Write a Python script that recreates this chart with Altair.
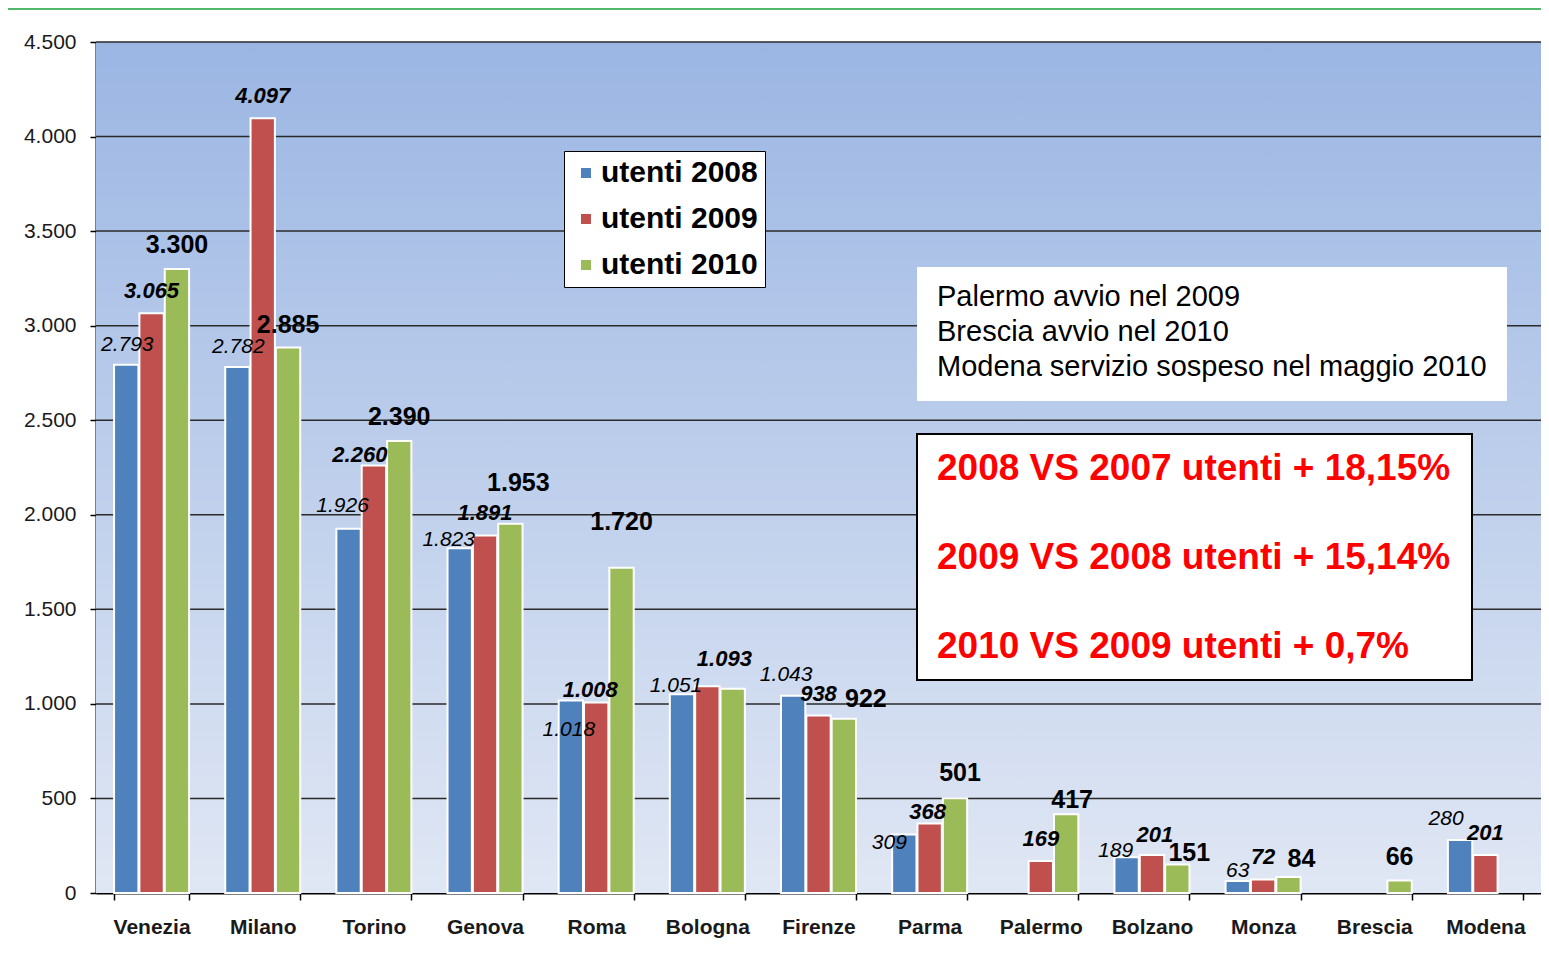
import altair as alt
import pandas as pd

# ---------------- data ----------------
CITIES = ["Venezia", "Milano", "Torino", "Genova", "Roma", "Bologna", "Firenze",
          "Parma", "Palermo", "Bolzano", "Monza", "Brescia", "Modena"]
SERIES = ["utenti 2008", "utenti 2009", "utenti 2010"]
U2008 = [2793, 2782, 1926, 1823, 1018, 1051, 1043, 309, None, 189, 63, None, 280]
U2009 = [3065, 4097, 2260, 1891, 1008, 1093, 938, 368, 169, 201, 72, None, 201]
U2010 = [3300, 2885, 2390, 1953, 1720, 1080, 922, 501, 417, 151, 84, 66, None]
UNLABELLED = [("utenti 2010", "Bologna")]
Y_TICKS = [0, 500, 1000, 1500, 2000, 2500, 3000, 3500, 4000, 4500]
NOTES = ["Palermo avvio nel 2009", "Brescia avvio nel 2010",
         "Modena servizio sospeso nel maggio 2010"]
STATS = ["2008 VS 2007 utenti + 18,15%", "2009 VS 2008 utenti + 15,14%",
         "2010 VS 2009 utenti + 0,7%"]

# ---------------- style ----------------
COLORS = ["#4F81BD", "#C0504D", "#9BBB59"]
FONT = "Liberation Sans"
W, H = 1445, 851
LABEL_STYLE = {
    "utenti 2008": dict(fontSize=21, fontStyle="italic", fontWeight="normal"),
    "utenti 2009": dict(fontSize=22, fontStyle="italic", fontWeight="bold"),
    "utenti 2010": dict(fontSize=25, fontStyle="normal", fontWeight="bold"),
}
DEFAULT_NUDGE = (0, -22)
LABEL_NUDGE = {
    "utenti 2008": {"Venezia": (1, -20), "Milano": (1, -20), "Torino": (-6, -23),
                    "Genova": (-11, -8), "Roma": (-2, 30), "Bologna": (-6, -8),
                    "Firenze": (-7, -21), "Parma": (-15, 8), "Bolzano": (-11, -6),
                    "Monza": (0, -10), "Modena": (-14, -21)},
    "utenti 2009": {"Torino": (-14, -11), "Roma": (-6, -12), "Bologna": (17, -27),
                    "Parma": (-2, -11), "Bolzano": (3, -20)},
    "utenti 2010": {"Venezia": (0, -24), "Torino": (0, -24), "Genova": (8, -41),
                    "Roma": (0, -46), "Firenze": (22, -20), "Parma": (5, -25),
                    "Palermo": (6, -14), "Bolzano": (12, -11), "Monza": (13, -18),
                    "Brescia": (0, -24)},
}

rows = []
for s, vals in zip(SERIES, [U2008, U2009, U2010]):
    for c, v in zip(CITIES, vals):
        if v is None:
            continue
        lab = "" if (s, c) in UNLABELLED else f"{v:,}".replace(",", ".")
        rows.append({"city": c, "series": s, "value": v, "label": lab})
df = pd.DataFrame(rows)
one = pd.DataFrame({"k": [0]})
grid_df = pd.DataFrame({"value": Y_TICKS[1:]})

x_enc = alt.X("city:N", sort=CITIES,
              scale=alt.Scale(domain=CITIES, paddingInner=0.325, paddingOuter=0.1625),
              axis=alt.Axis(title=None, labelFont=FONT, labelFontSize=21,
                            labelFontWeight="bold", labelColor="#1a1a1a",
                            labelPadding=16, tickBand="extent", tickSize=7,
                            tickColor="#000", tickWidth=1.5, domainColor="#000",
                            domainWidth=2, grid=False, labelAngle=0))
xoff_enc = alt.XOffset("series:N", scale=alt.Scale(domain=SERIES, paddingInner=0.04))
y_enc = alt.Y("value:Q",
              scale=alt.Scale(domain=[0, 4500], nice=False),
              axis=alt.Axis(title=None, values=Y_TICKS, labelFont=FONT,
                            labelFontSize=21, labelColor="#1a1a1a",
                            labelExpr="replace(format(datum.value, ','), ',', '.')",
                            labelPadding=14, tickSize=6, tickColor="#000",
                            tickWidth=1.5, domainColor="#000", domainWidth=2,
                            grid=False))

grad = alt.LinearGradient(
    gradient="linear",
    stops=[alt.GradientStop(color="#9BB6E3", offset=0),
           alt.GradientStop(color="#E0E7F4", offset=1)],
    x1=0, x2=0, y1=0, y2=1)

background = alt.Chart(one).mark_rect(fill=grad).encode(
    x=alt.value(0), x2=alt.value(W), y=alt.value(0), y2=alt.value(H))

gridlines = alt.Chart(grid_df).mark_rule(color="#2a2a2a", strokeWidth=1.5).encode(
    y=alt.Y("value:Q"))

bars = alt.Chart(df).mark_bar(stroke="white", strokeWidth=2).encode(
    x=x_enc, xOffset=xoff_enc, y=y_enc,
    color=alt.Color("series:N",
                    scale=alt.Scale(domain=SERIES, range=COLORS),
                    legend=alt.Legend(title=None, orient="none", legendX=468, legendY=109,
                                      fillColor="white", strokeColor="#000",
                                      padding=7, labelFont=FONT, labelFontSize=30,
                                      labelFontWeight="bold", labelColor="#000",
                                      labelOffset=0, labelLimit=400,
                                      symbolType="square", symbolSize=100,
                                      symbolStrokeWidth=0, rowPadding=16)),
)

# label layers grouped by nudge
groups = {}
for s in SERIES:
    for c in CITIES:
        groups.setdefault((s, LABEL_NUDGE[s].get(c, DEFAULT_NUDGE)), []).append(c)

label_layers = []
for (s, (dx, dy)), cities in groups.items():
    st = LABEL_STYLE[s]
    label_layers.append(
        alt.Chart(df)
        .transform_filter(alt.FieldEqualPredicate(field="series", equal=s))
        .transform_filter(alt.FieldOneOfPredicate(field="city", oneOf=cities))
        .transform_filter("datum.label != ''")
        .mark_text(font=FONT, color="#000", align="center", baseline="middle",
                   dx=dx, dy=dy, **st)
        .encode(x=alt.X("city:N", sort=CITIES), xOffset=alt.XOffset("series:N"),
                y=alt.Y("value:Q"), text="label:N")
    )

top_strip = alt.Chart(one).mark_rect(color="#52B86D").encode(
    x=alt.value(-88), x2=alt.value(W), y=alt.value(-34), y2=alt.value(-32))

notes_box = alt.Chart(one).mark_rect(fill="white").encode(
    x=alt.value(821), x2=alt.value(1411), y=alt.value(225), y2=alt.value(359))
notes_text = alt.Chart(one).mark_text(
    font=FONT, fontSize=29, color="#000", align="left", baseline="alphabetic",
    lineHeight=35).encode(x=alt.value(841), y=alt.value(264), text=alt.value(NOTES))

stats_box = alt.Chart(one).mark_rect(fill="white", stroke="#000", strokeWidth=2).encode(
    x=alt.value(821), x2=alt.value(1376), y=alt.value(392), y2=alt.value(638))
stats_text = alt.Chart(one).mark_text(
    font=FONT, fontSize=37, fontWeight="bold", color="#FF0000", align="left",
    baseline="alphabetic", lineHeight=89).encode(
    x=alt.value(841), y=alt.value(438), text=alt.value(STATS))

chart = alt.layer(
    top_strip, background, gridlines, bars, *label_layers,
    notes_box, notes_text, stats_box, stats_text
).properties(
    width=W, height=H, autosize="none",
    padding={"left": 88, "top": 34, "right": 0, "bottom": 55},
    background="white",
).configure_view(stroke="transparent")

chart.save("out.html", embed_options={"renderer": "svg", "actions": False})
